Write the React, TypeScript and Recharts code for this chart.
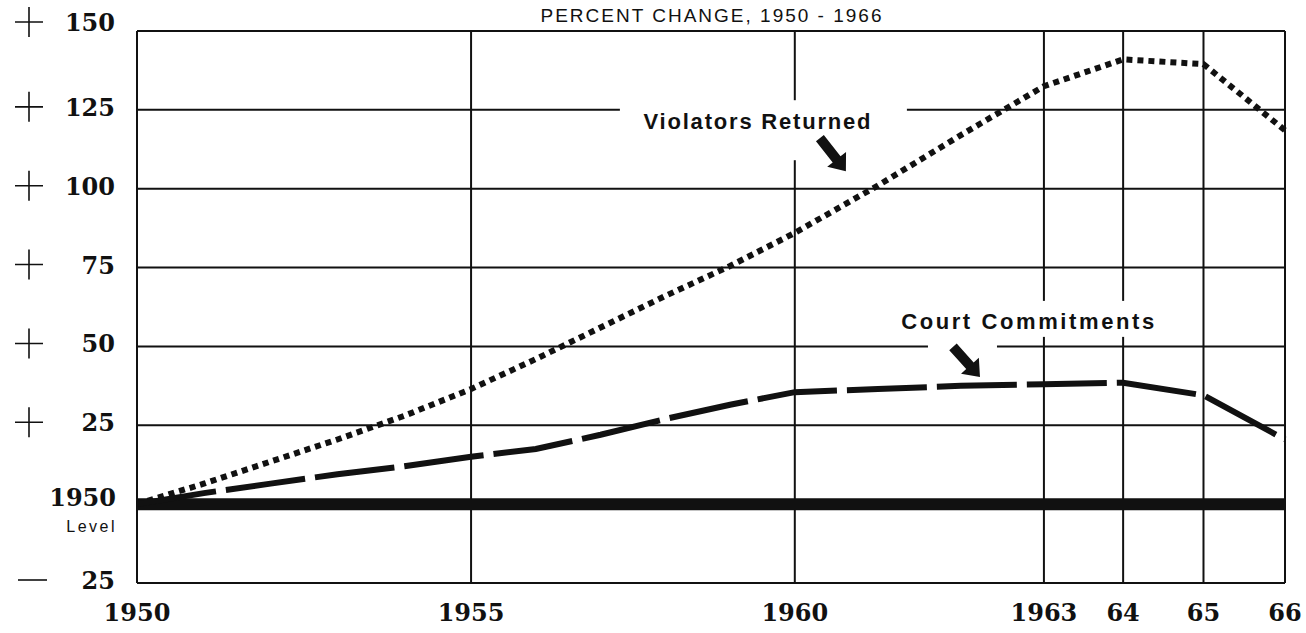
import {
  CartesianGrid,
  Line,
  LineChart,
  ReferenceDot,
  ReferenceLine,
  XAxis,
  YAxis,
} from 'recharts';

const years = [
  1950, 1951, 1952, 1953, 1954, 1955, 1956, 1957, 1958, 1959, 1960, 1961, 1962,
  1963, 1964, 1965, 1966,
];
const violatorsReturned = [
  0, 6.5, 13.5, 20.5, 28, 36.5, 46, 56, 66, 75.5, 86, 101, 117, 132.5, 141,
  139.5, 118.5,
];
const courtCommitments = [
  0, 3.5, 6.5, 9.5, 12, 15, 17.5, 22, 27, 31.5, 35.5, 36.5, 37.5, 38, 38.5,
  34.5, 20.5,
];

// the original time axis is uneven: 1950-60 is squeezed, 1960-66 stretched out
const axisYears = [1950, 1955, 1960, 1963, 1964, 1965, 1966];
const axisStops = [0, 29.1, 57.3, 79.0, 85.9, 92.9, 100];
const axisLabels = ['1950', '1955', '1960', '1963', '64', '65', '66'];

const yTicks = [-25, 0, 25, 50, 75, 100, 125, 150];

const toAxis = (year: number) => {
  for (let i = 1; i < axisYears.length; i++) {
    if (year <= axisYears[i]) {
      const t = (year - axisYears[i - 1]) / (axisYears[i] - axisYears[i - 1]);
      return axisStops[i - 1] + t * (axisStops[i] - axisStops[i - 1]);
    }
  }
  return axisStops[axisStops.length - 1];
};

const data = years.map((year, i) => ({
  year,
  x: toAxis(year),
  violators: violatorsReturned[i],
  court: courtCommitments[i],
}));

const serif = '"DejaVu Serif", serif';
const sans = '"Liberation Sans", Arial, sans-serif';
const ink = '#111';

const YTick = ({ y, payload }: any) => {
  const v = payload.value as number;
  if (v === 0) {
    return (
      <g>
        <text x={116} y={y + 2} textAnchor="end" fontFamily={serif} fontWeight="bold" fontSize={24} fill={ink}>
          1950
        </text>
        <text x={117} y={y + 28} textAnchor="end" fontFamily={sans} fontSize={16} letterSpacing={2.5} fill={ink}>
          Level
        </text>
      </g>
    );
  }
  const cy = v === 150 ? y - 9 : y - 3;
  return (
    <g>
      {v > 0 ? (
        <path d={`M15 ${cy} H43 M29 ${cy - 15} V${cy + 15}`} stroke={ink} strokeWidth={1.6} />
      ) : (
        <path d={`M18 ${cy} H47`} stroke={ink} strokeWidth={1.6} />
      )}
      <text x={115} y={cy + 9} textAnchor="end" fontFamily={serif} fontWeight="bold" fontSize={24} fill={ink}>
        {Math.abs(v)}
      </text>
    </g>
  );
};

const XTick = ({ x, payload }: any) => {
  const i = axisStops.indexOf(payload.value);
  return (
    <text x={x} y={621} textAnchor="middle" fontFamily={serif} fontWeight="bold" fontSize={24} fill={ink}>
      {axisLabels[i] ?? ''}
    </text>
  );
};

const arrow = (x1: number, y1: number, x2: number, y2: number) => {
  const dx = x2 - x1;
  const dy = y2 - y1;
  const len = Math.hypot(dx, dy);
  const ux = dx / len;
  const uy = dy / len;
  const px = -uy;
  const py = ux;
  const head = 15;
  const sw = 5;
  const hw = 12;
  const bx = x2 - ux * head;
  const by = y2 - uy * head;
  const pts = [
    [x1 + px * sw, y1 + py * sw],
    [bx + px * sw, by + py * sw],
    [bx + px * hw, by + py * hw],
    [x2, y2],
    [bx - px * hw, by - py * hw],
    [bx - px * sw, by - py * sw],
    [x1 - px * sw, y1 - py * sw],
  ];
  return 'M' + pts.map((p) => p.join(' ')).join(' L') + ' Z';
};

const ViolatorsNote = ({ cx, cy }: any) => (
  <g>
    <rect x={cx - 138} y={cy - 21} width={287} height={60} fill="#fff" />
    <text x={cx} y={cy + 8} textAnchor="middle" fontFamily={sans} fontWeight="bold" fontSize={22} letterSpacing={1.8} fill={ink}>
      Violators Returned
    </text>
    <path d={arrow(cx + 62, cy + 17, cx + 88, cy + 50)} fill={ink} />
  </g>
);

const CourtNote = ({ cx, cy }: any) => (
  <g>
    <rect x={cx - 142} y={cy - 20} width={286} height={36} fill="#fff" />
    <rect x={cx - 101} y={cy + 16} width={69} height={40} fill="#fff" />
    <text x={cx} y={cy + 8} textAnchor="middle" fontFamily={sans} fontWeight="bold" fontSize={22} letterSpacing={2.6} fill={ink}>
      Court Commitments
    </text>
    <path d={arrow(cx - 76, cy + 26, cx - 49, cy + 56)} fill={ink} />
  </g>
);

export default function App() {
  return (
    <div style={{ position: 'absolute', left: 0, top: 0, width: 1306, height: 633, background: '#fff', overflow: 'hidden' }}>
      <LineChart width={1306} height={633} data={data} margin={{ top: 31, right: 21, left: 0, bottom: 0 }}>
        <CartesianGrid stroke={ink} strokeWidth={2} />
        <XAxis
          type="number"
          dataKey="x"
          domain={[0, 100]}
          ticks={axisStops}
          interval={0}
          axisLine={false}
          tickLine={false}
          height={50}
          tick={<XTick />}
        />
        <YAxis
          type="number"
          domain={[-25, 150]}
          ticks={yTicks}
          interval={0}
          axisLine={false}
          tickLine={false}
          width={137}
          tick={<YTick />}
        />
        <ReferenceLine y={0} stroke={ink} strokeWidth={12} />
        <ReferenceDot x={toAxis(1959.43)} y={121.4} r={1} fill="none" stroke="none" shape={(p: any) => <ViolatorsNote {...p} />} />
        <ReferenceDot x={toAxis(1962.82)} y={58.1} r={1} fill="none" stroke="none" shape={(p: any) => <CourtNote {...p} />} />
        <Line
          type="linear"
          dataKey="violators"
          stroke={ink}
          strokeWidth={6}
          strokeDasharray="6 5"
          dot={false}
          isAnimationActive={false}
        />
        <Line
          type="linear"
          dataKey="court"
          stroke={ink}
          strokeWidth={6}
          strokeDasharray="80 10"
          dot={false}
          isAnimationActive={false}
        />
      </LineChart>
      <svg width={1306} height={633} style={{ position: 'absolute', left: 0, top: 0, pointerEvents: 'none' }}>
        <text x={712} y={22} textAnchor="middle" fontFamily={sans} fontSize={19} letterSpacing={2} fill={ink}>
          PERCENT CHANGE, 1950 - 1966
        </text>
      </svg>
    </div>
  );
}
